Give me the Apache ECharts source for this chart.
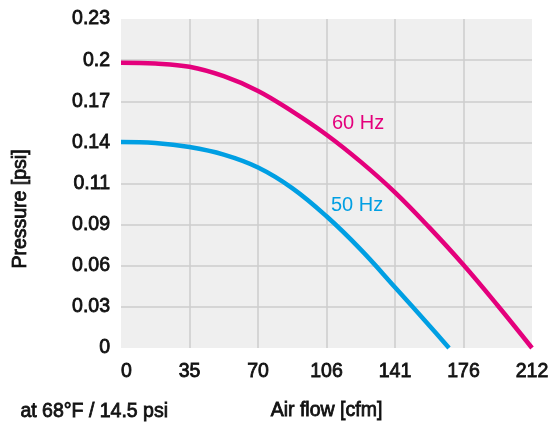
<!DOCTYPE html>
<html>
<head>
<meta charset="utf-8">
<script src="https://cdn.jsdelivr.net/npm/echarts@6/dist/echarts.min.js"></script>
<style>
html,body{margin:0;padding:0;background:#fff;}
#chart{width:548px;height:425px;}
</style>
</head>
<body>
<div id="chart"></div>
<script>
// Tick labels as printed on the chart
const xTickLabels = ['0', '35', '70', '106', '141', '176', '212'];
const yTickLabels = ['0', '0.03', '0.06', '0.09', '0.11', '0.14', '0.17', '0.2', '0.23'];

// Air flow [cfm] sample positions and pressure [psi] values
const flow60 = [0, 17.7, 35.3, 53, 70.7, 88.3, 106, 123.7, 141.3, 159, 176.7, 194.3, 212];
const pressure60 = [0.1995, 0.1989, 0.1966, 0.1900, 0.1797, 0.1654, 0.1491, 0.1301, 0.1088, 0.0843, 0.0580, 0.0297, 0.0];

const flow50 = [0, 17.7, 35.3, 53, 70.7, 88.3, 106, 123.7, 141.3, 159, 169.2];
const pressure50 = [0.1440, 0.1433, 0.1405, 0.1352, 0.1262, 0.1118, 0.0921, 0.0688, 0.0425, 0.0157, 0.0];

const seriesNames = ['60 Hz', '50 Hz'];
const xMax = 212, yMax = 0.23;
const xStep = xMax / 6, yStep = yMax / 8;

const fam = "'Liberation Sans',Arial,sans-serif";
const txt = {fontFamily: fam, fontSize: 19.5, color: '#111', textBorderColor: '#111', textBorderWidth: 0.8};

const chart = echarts.init(document.getElementById('chart'), null, {renderer: 'canvas'});
chart.setOption({
  animation: false,
  backgroundColor: '#ffffff',
  grid: {left: 121, right: 16, top: 19, bottom: 77, containLabel: false, outerBoundsMode: 'none',
         show: true, backgroundColor: '#efefef', borderWidth: 0},
  xAxis: {
    type: 'value', min: 0, max: xMax, interval: xStep,
    name: 'Air flow [cfm]', nameLocation: 'middle', nameGap: 53,
    nameTextStyle: Object.assign({}, txt),
    axisLine: {show: false}, axisTick: {show: false},
    axisLabel: Object.assign({margin: 14, alignMinLabel: 'left',
      formatter: v => xTickLabels[Math.round(v / xStep)]}, txt),
    splitLine: {show: true, showMinLine: false, showMaxLine: false, lineStyle: {color: '#cccccc', width: 1.5}}
  },
  yAxis: {
    type: 'value', min: 0, max: yMax, interval: yStep,
    axisLine: {show: false}, axisTick: {show: false},
    axisLabel: Object.assign({margin: 11,
      formatter: v => yTickLabels[Math.round(v / yStep)]}, txt),
    splitLine: {show: true, showMinLine: false, showMaxLine: false, lineStyle: {color: '#cccccc', width: 1.5}}
  },
  series: [
    {
      name: seriesNames[0], type: 'line', showSymbol: false, smooth: 0.4,
      data: flow60.map((x, i) => [x, pressure60[i]]),
      lineStyle: {color: '#e4007c', width: 4.5}, itemStyle: {color: '#e4007c'}
    },
    {
      name: seriesNames[1], type: 'line', showSymbol: false, smooth: 0.4,
      data: flow50.map((x, i) => [x, pressure50[i]]),
      lineStyle: {color: '#009fe3', width: 4.5}, itemStyle: {color: '#009fe3'}
    }
  ],
  graphic: [
    {type: 'text', left: 332, top: 113, style: {text: seriesNames[0], fill: '#e4007c', font: '20px ' + fam}},
    {type: 'text', left: 331, top: 195, style: {text: seriesNames[1], fill: '#009fe3', font: '20px ' + fam}},
    {type: 'text', left: 20, top: 401, style: {text: 'at 68°F / 14.5 psi', fill: '#111', font: '19.5px ' + fam, stroke: '#111', lineWidth: 0.8}},
    {type: 'text', x: 21, y: 209, rotation: Math.PI / 2,
     style: {text: 'Pressure [psi]', fill: '#111', font: '19.5px ' + fam, stroke: '#111', lineWidth: 0.8, align: 'center', verticalAlign: 'middle'}}
  ]
});
</script>
</body>
</html>
